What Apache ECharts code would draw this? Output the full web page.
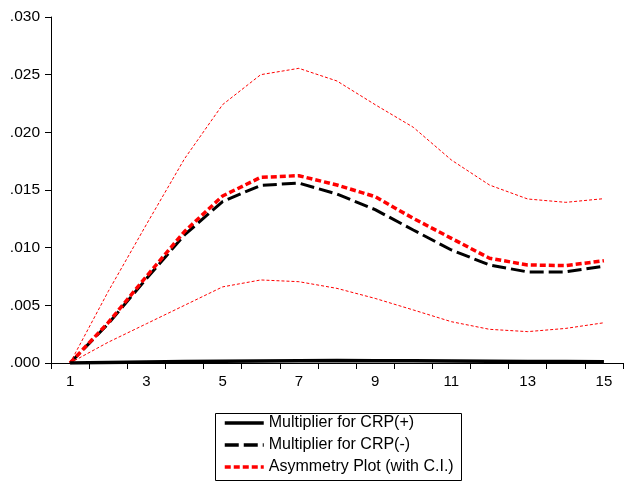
<!DOCTYPE html>
<html>
<head>
<meta charset="utf-8">
<script src="https://cdn.jsdelivr.net/npm/echarts@6/dist/echarts.min.js"></script>
<style>
html,body{margin:0;padding:0;background:#fff;}
#chart{width:625px;height:482px;}
</style>
</head>
<body>
<div id="chart"></div>
<script>
var categories = ['1','2','3','4','5','6','7','8','9','10','11','12','13','14','15'];
var crpPos = [0, 0.00004, 0.00008, 0.00012, 0.00015, 0.00018, 0.0002, 0.00021, 0.0002, 0.00019, 0.00017, 0.00015, 0.00013, 0.00012, 0.0001];
var crpNeg = [0, 0.0034, 0.0073, 0.0111, 0.0140, 0.0154, 0.0156, 0.01465, 0.0133, 0.01153, 0.0098, 0.0085, 0.0079, 0.0079, 0.0084];
var asym = [0, 0.0035, 0.0075, 0.0114, 0.01448, 0.0161, 0.01624, 0.01543, 0.01442, 0.01254, 0.01081, 0.00908, 0.0085, 0.00845, 0.00887];
var upperCI = [0, 0.0062, 0.0120, 0.0177, 0.0224, 0.0250, 0.02555, 0.02445, 0.0224, 0.02044, 0.0176, 0.01543, 0.01422, 0.01393, 0.01425];
var lowerCI = [0, 0.0018, 0.0034, 0.0050, 0.0066, 0.0072, 0.00705, 0.00647, 0.0056, 0.0046, 0.00358, 0.00292, 0.00272, 0.0030, 0.00349];
var yTicks = [0, 0.005, 0.010, 0.015, 0.020, 0.025, 0.030];

var chart = echarts.init(document.getElementById('chart'));
var font = 'Liberation Sans, Arial, sans-serif';
chart.setOption({
  animation: false,
  backgroundColor: '#fff',
  grid: {left: 51, right: 2, top: 17, bottom: 119},
  graphic: [{
    type: 'rect', silent: true, z: 0,
    shape: {x: 215.5, y: 413.5, width: 246, height: 67},
    style: {fill: 'none', stroke: '#000', lineWidth: 1}
  }],
  xAxis: {
    type: 'category',
    data: categories,
    boundaryGap: true,
    axisLine: {lineStyle: {color: '#000', width: 1}},
    axisTick: {show: true, interval: 0, length: 6, lineStyle: {color: '#000'}},
    axisLabel: {interval: 1, color: '#000', fontSize: 15, fontFamily: font, margin: 11},
    splitLine: {show: false}
  },
  yAxis: {
    type: 'value',
    min: yTicks[0],
    max: yTicks[yTicks.length - 1],
    interval: 0.005,
    axisLine: {show: true, lineStyle: {color: '#000', width: 1}},
    axisTick: {show: true, length: 6, lineStyle: {color: '#000'}},
    axisLabel: {color: '#000', fontSize: 15.5, fontFamily: font, margin: 11,
      formatter: function (v) { return v.toFixed(3).replace(/^0/, ''); }},
    splitLine: {show: false}
  },
  legend: {
    data: ['Multiplier for CRP(+)', 'Multiplier for CRP(-)', 'Asymmetry Plot (with C.I.)'],
    orient: 'vertical',
    left: 216,
    top: 414,
    padding: [1, 7, 0, 7],
    itemGap: 6,
    itemWidth: 39,
    itemHeight: 15,
    itemStyle: {opacity: 0},
    lineStyle: {width: 3.5},
    textStyle: {color: '#000', fontSize: 16, fontFamily: font},
    selectedMode: false
  },
  series: [
    {name: 'Upper C.I.', type: 'line', data: upperCI, symbol: 'none', z: 1,
      lineStyle: {color: '#ff0000', width: 1, type: [3, 2]}},
    {name: 'Lower C.I.', type: 'line', data: lowerCI, symbol: 'none', z: 1,
      lineStyle: {color: '#ff0000', width: 1, type: [3, 2]}},
    {name: 'Multiplier for CRP(+)', type: 'line', data: crpPos, symbol: 'none', z: 3,
      itemStyle: {color: '#000'},
      lineStyle: {color: '#000', width: 3.5, type: 'solid'}},
    {name: 'Multiplier for CRP(-)', type: 'line', data: crpNeg, symbol: 'none', z: 2,
      itemStyle: {color: '#000'},
      lineStyle: {color: '#000', width: 3, type: [14, 5]}},
    {name: 'Asymmetry Plot (with C.I.)', type: 'line', data: asym, symbol: 'none', z: 2,
      itemStyle: {color: '#ff0000'},
      lineStyle: {color: '#ff0000', width: 3.5, type: [6, 3]}}
  ]
});
</script>
</body>
</html>
